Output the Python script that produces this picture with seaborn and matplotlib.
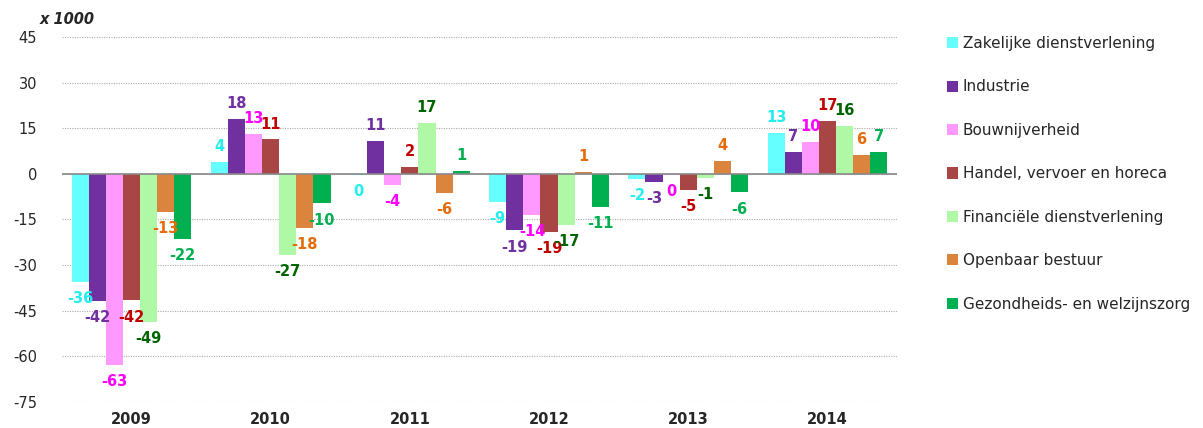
import matplotlib
matplotlib.use('Agg')
from matplotlib import pyplot as plt
import seaborn as sns
import pandas as pd

years = ['2009', '2010', '2011', '2012', '2013', '2014']
sectors = [
    'Zakelijke dienstverlening',
    'Industrie',
    'Bouwnijverheid',
    'Handel, vervoer en horeca',
    'Financiële dienstverlening',
    'Openbaar bestuur',
    'Gezondheids- en welzijnszorg',
]

# banen x 1000, per sector, per jaar
zakelijk = [-35.6, 3.9, -0.3, -9.3, -1.6, 13.4]
industrie = [-41.8, 18.2, 10.8, -18.6, -2.7, 7.2]
bouw = [-62.8, 13.1, -3.7, -13.6, -0.3, 10.4]
handel = [-41.6, 11.3, 2.3, -19.1, -5.3, 17.4]
financieel = [-48.6, -26.7, 16.7, -16.8, -1.2, 15.7]
openbaar = [-12.6, -17.8, -6.3, 0.7, 4.3, 6.2]
zorg = [-21.5, -9.7, 1.1, -10.9, -6.1, 7.1]

series = [zakelijk, industrie, bouw, handel, financieel, openbaar, zorg]

bar_colors = ['#66FFFF', '#7030A0', '#FF99FF', '#A84545', '#AEF8A6', '#DB843D', '#00B050']
label_colors = ['#22EEEE', '#7030A0', '#FF00FF', '#C00000', '#006400', '#E46C0A', '#00B050']

rows = []
for sector, vals in zip(sectors, series):
    for year, v in zip(years, vals):
        rows.append({'jaar': year, 'sector': sector, 'waarde': v})
data = pd.DataFrame(rows)

sns.set_style('white')
plt.rcParams['font.family'] = ['DejaVu Sans']
plt.rcParams['axes.unicode_minus'] = False

fig = plt.figure(figsize=(12.03, 4.28), dpi=100)
ax = fig.add_axes([0.0515, 0.0607, 0.6941, 0.8529])

sns.barplot(data=data, x='jaar', y='waarde', hue='sector', order=years, hue_order=sectors,
            palette=bar_colors, width=0.86, linewidth=0, saturation=1, errorbar=None, ax=ax)

for container, col in zip(ax.containers, label_colors):
    for bar in container:
        h = bar.get_height()
        x = bar.get_x() + bar.get_width() / 2
        off = 11 if h >= 0 else -12
        ax.annotate(f'{int(round(h))}', (x, h), xytext=(0, off), textcoords='offset points',
                    ha='center', va='center', fontsize=10.5, fontweight='bold', color=col)

ax.set_ylim(-75, 45)
ax.set_xlim(-0.5, 5.5)
ax.set_yticks(range(-75, 46, 15))
ax.yaxis.grid(True, linestyle=(0, (1, 1.2)), color='#AAAAAA', linewidth=0.8)
ax.set_axisbelow(True)
ax.axhline(0, color='#888888', linewidth=1.2, zorder=3)
for s in ax.spines.values():
    s.set_visible(False)
ax.tick_params(axis='y', length=0, labelsize=10.5, pad=18)
ax.tick_params(axis='x', length=0, labelsize=10.5, pad=7)
for t in ax.get_xticklabels():
    t.set_fontweight('bold')
ax.set_xlabel('')
ax.set_ylabel('')

fig.text(0.033, 0.955, 'x 1000', fontsize=10.5, fontweight='bold', fontstyle='italic', va='center')

handles, labels = ax.get_legend_handles_labels()
ax.get_legend().remove()
fig.legend(handles, labels, loc='upper left', bbox_to_anchor=(0.782, 0.93), frameon=False,
           fontsize=11, handlelength=0.75, handleheight=0.75, handletextpad=0.3,
           labelspacing=1.86, borderaxespad=0)

fig.savefig('out.png', dpi=100)
